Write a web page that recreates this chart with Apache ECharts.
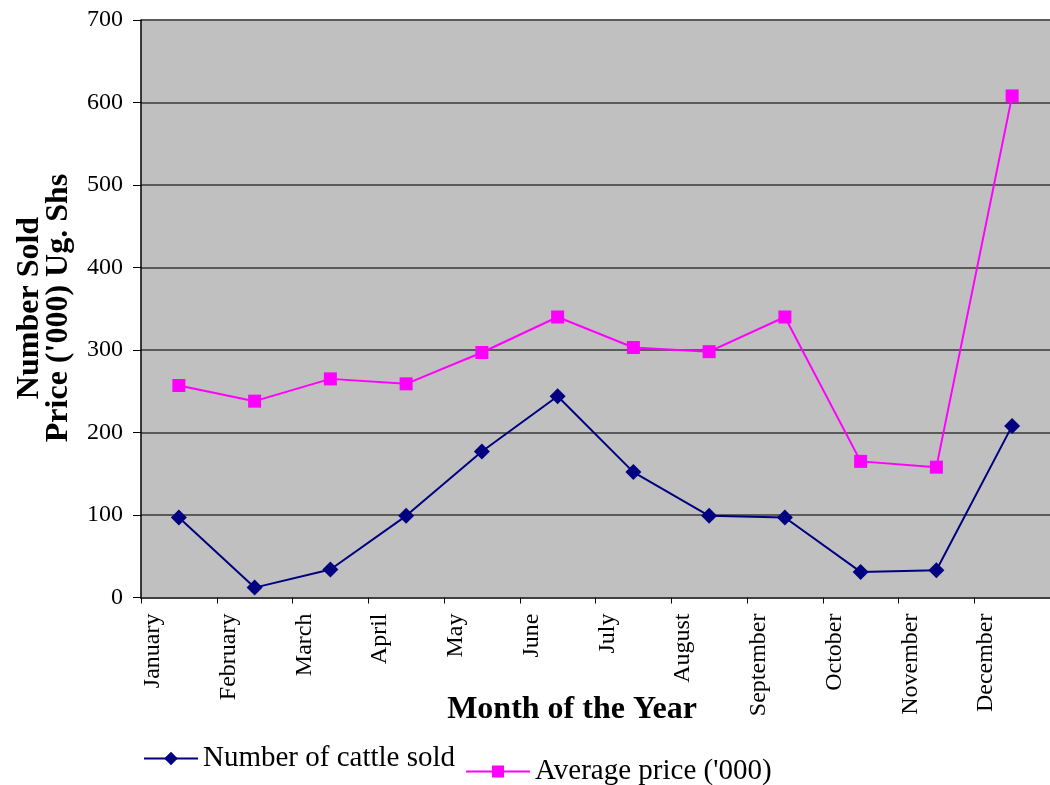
<!DOCTYPE html>
<html>
<head>
<meta charset="utf-8">
<script src="https://cdn.jsdelivr.net/npm/echarts@6/dist/echarts.min.js"></script>
<style>
html,body{margin:0;padding:0;background:#fff;}
#chart{width:1050px;height:785px;}
</style>
</head>
<body>
<div id="chart"></div>
<script>
const months = ['January','February','March','April','May','June','July','August','September','October','November','December'];
const cattleSold = [97, 12, 34, 99, 177, 244, 152, 99, 97, 31, 33, 208];
const avgPrice = [257, 238, 265, 259, 297, 340, 303, 298, 340, 165, 158, 608];
const yTicks = { min: 0, max: 700, interval: 100 };
const seriesNames = ['Number of cattle sold', "Average price ('000)"];

const FONT = 'Liberation Serif';
const chart = echarts.init(document.getElementById('chart'), null, { renderer: 'canvas' });

chart.setOption({
  backgroundColor: '#ffffff',
  animation: false,
  textStyle: { fontFamily: FONT },
  grid: {
    left: 141, right: 0, top: 20, bottom: 187.5,
    show: true, backgroundColor: '#c0c0c0', borderWidth: 0
  },
  xAxis: {
    type: 'category',
    data: months,
    boundaryGap: true,
    axisLine: { show: true, lineStyle: { color: '#404040', width: 2 } },
    axisTick: { show: true, length: 6, lineStyle: { color: '#000', width: 1 } },
    axisLabel: {
      rotate: 90, interval: 0, margin: 16,
      color: '#000', fontSize: 24, fontFamily: FONT,
      verticalAlign: 'bottom', padding: [0, 0, 14, 0]
    },
    splitLine: { show: false }
  },
  yAxis: {
    type: 'value',
    min: yTicks.min, max: yTicks.max, interval: yTicks.interval,
    axisLine: { show: true, lineStyle: { color: '#000', width: 1.5 } },
    axisTick: { show: true, length: 8, lineStyle: { color: '#000', width: 1 } },
    axisLabel: { color: '#000', fontSize: 24, fontFamily: FONT, margin: 18 },
    splitLine: { show: true, lineStyle: { color: '#5a5a5a', width: 2 } }
  },
  legend: [
    {
      data: [seriesNames[0]], left: 138, top: 739,
      itemWidth: 54, itemHeight: 17,
      lineStyle: { width: 2 },
      textStyle: { fontSize: 29, fontFamily: FONT, color: '#000' }
    },
    {
      data: [seriesNames[1]], left: 460, top: 752,
      itemWidth: 64, itemHeight: 15,
      lineStyle: { width: 2 },
      textStyle: { fontSize: 29, fontFamily: FONT, color: '#000' }
    }
  ],
  graphic: [
    {
      type: 'text', x: 44, y: 308, rotation: Math.PI / 2,
      style: {
        text: "Number Sold\nPrice ('000) Ug. Shs",
        font: 'bold 32px "Liberation Serif"', fill: '#000',
        align: 'center', verticalAlign: 'middle', lineHeight: 29
      }
    },
    {
      type: 'text', x: 572, y: 710,
      style: {
        text: 'Month of the Year',
        font: 'bold 32px "Liberation Serif"', fill: '#000',
        align: 'center', verticalAlign: 'middle'
      }
    }
  ],
  series: [
    {
      name: seriesNames[0], type: 'line', data: cattleSold,
      symbol: 'diamond', symbolSize: 16,
      lineStyle: { color: '#000080', width: 2 },
      itemStyle: { color: '#000080' }
    },
    {
      name: seriesNames[1], type: 'line', data: avgPrice,
      symbol: 'rect', symbolSize: 13,
      lineStyle: { color: '#ff00ff', width: 2 },
      itemStyle: { color: '#ff00ff' }
    }
  ]
});
</script>
</body>
</html>
